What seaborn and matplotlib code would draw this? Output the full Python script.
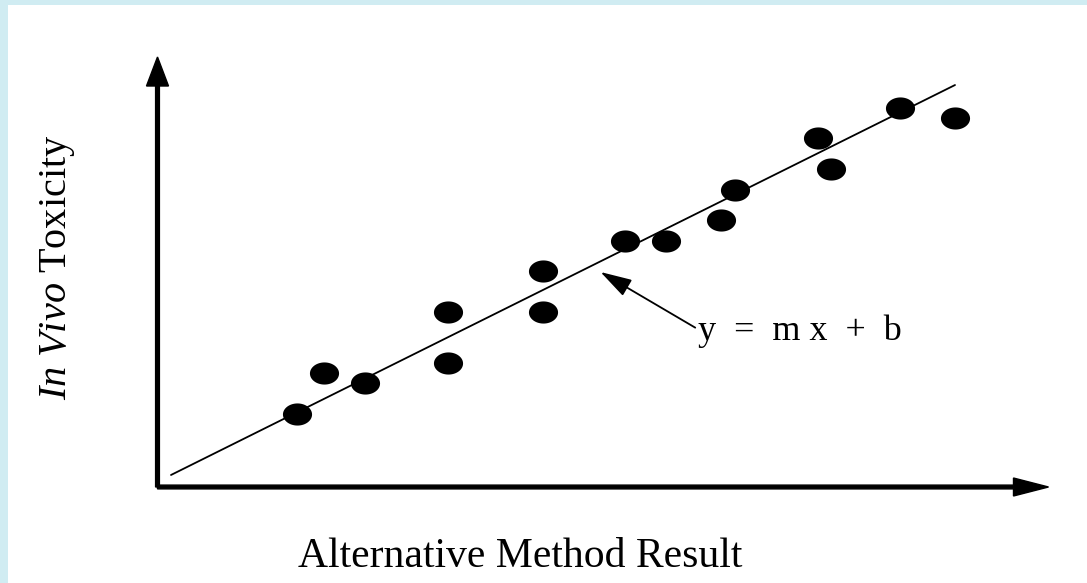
import numpy as np
import pandas as pd
import matplotlib
matplotlib.use('Agg')
import matplotlib.pyplot as plt
import seaborn as sns
from matplotlib.path import Path
from matplotlib.patches import Rectangle

# dados (unidades arbitrarias, origem no canto dos eixos)
alt_result = [13.9, 16.6, 20.7, 29.0, 29.0, 38.5, 38.5, 46.7, 50.8, 56.3, 57.7, 66.0, 67.3, 74.2, 79.7]
in_vivo = [7.1, 11.2, 10.2, 17.3, 12.2, 21.4, 17.3, 24.4, 24.4, 26.5, 29.5, 34.7, 31.6, 37.7, 36.7]

# reta y = m x + b
m = 0.4974
b = 0.33
line_x = [1.35, 79.75]

df = pd.DataFrame({'x': alt_result, 'y': in_vivo})
df_line = pd.DataFrame({'x': line_x, 'y': [m * v + b for v in line_x]})

sns.set_style('white')
plt.rcParams['font.family'] = ['Liberation Serif', 'DejaVu Serif']
plt.rcParams['text.color'] = 'black'
plt.rcParams['mathtext.fontset'] = 'custom'
plt.rcParams['mathtext.rm'] = 'Liberation Serif'
plt.rcParams['mathtext.it'] = 'Liberation Serif:italic'

fig = plt.figure(figsize=(10.87, 5.83), dpi=100)
fig.patch.set_facecolor('#d0ecf2')
ax = fig.add_axes([0, 0, 1, 1])
ax.set_facecolor('none')
# fundo branco (borda azul clara em cima e a esquerda)
ax.add_patch(Rectangle((8 / 1087, 0), 1, 1 - 5 / 583, transform=ax.transAxes,
                       facecolor='white', edgecolor='none', zorder=-10, clip_on=False))

# marcador eliptico
t = np.linspace(0, 2 * np.pi, 60)
ellipse = Path(np.column_stack([np.cos(t), 0.76 * np.sin(t)]), closed=True)

sns.lineplot(data=df_line, x='x', y='y', color='black', lw=1.3, ax=ax)
sns.scatterplot(data=df, x='x', y='y', marker=ellipse, s=440, color='black',
                linewidth=0, ax=ax, zorder=3)

# eixos com setas
ax.arrow(0, -0.2, 0, 43.0, width=0.38, head_width=2.2, head_length=2.9,
         length_includes_head=True, color='black')
ax.arrow(0, -0.2, 89.1, 0, width=0.38, head_width=1.8, head_length=3.5,
         length_includes_head=True, color='black')

ax.annotate('y  =  m x  +  b', xy=(44.3, 21.3), xytext=(54.1, 14.5),
            fontsize=26, va='baseline', ha='left', color='black',
            arrowprops=dict(arrowstyle='-|>,head_length=0.75,head_width=0.22',
                            color='black', lw=1.3, shrinkA=0, shrinkB=0,
                            relpos=(0, 0.55)))

ax.text(36.3, -8.2, 'Alternative Method Result', fontsize=30, ha='center',
        va='baseline', color='black')
ax.text(-10.0, 21.8, r'$\mathit{In\ Vivo}$ Toxicity', fontsize=29, rotation=90,
        ha='center', va='center', color='black')

ax.set_xlim(-15.75, 92.95)
ax.set_ylim(-9.8, 48.5)
ax.set_xlabel('')
ax.set_ylabel('')
ax.axis('off')

plt.savefig('out.png', dpi=100, facecolor=fig.get_facecolor())
